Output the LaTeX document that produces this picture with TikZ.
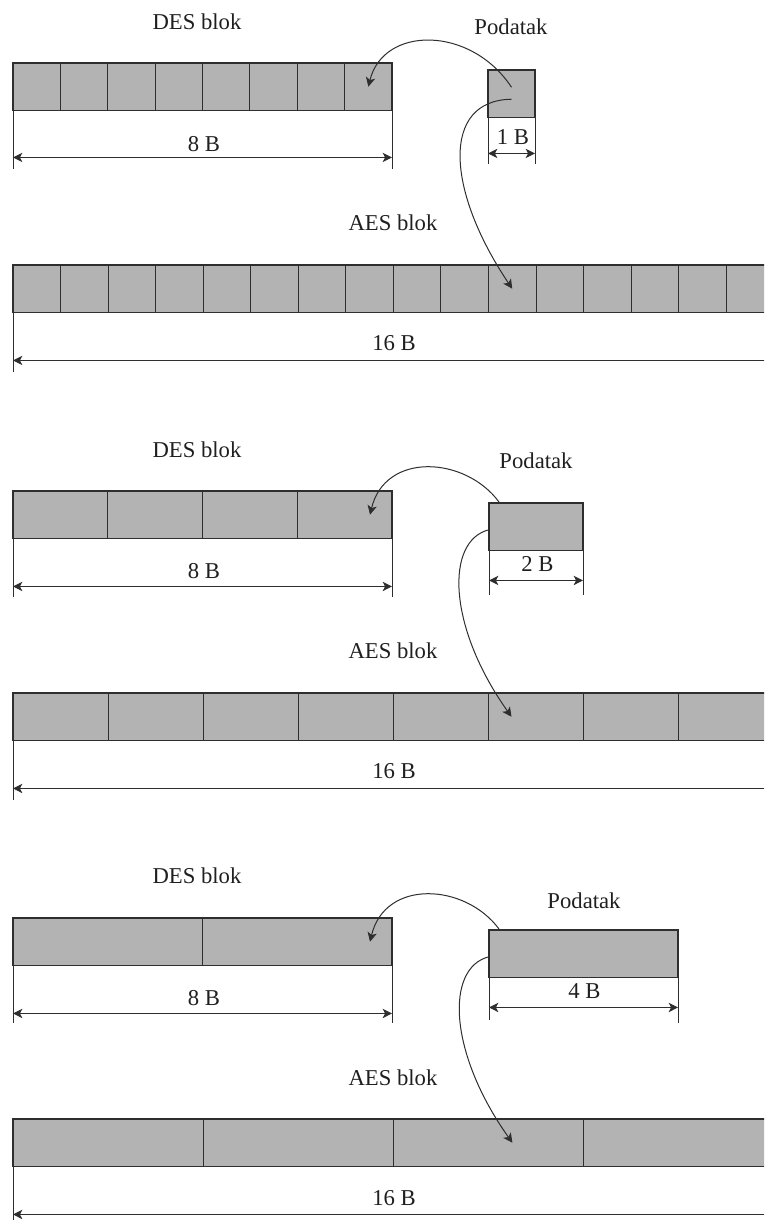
\documentclass[tikz,border=0pt]{standalone}
\usepackage{fontspec}
\setmainfont{Liberation Serif}
\usetikzlibrary{arrows.meta,calc}
\definecolor{cellgray}{HTML}{B3B3B3}
\definecolor{linec}{HTML}{2E2E2E}
\definecolor{textc}{HTML}{1F1F1F}
\begin{document}
\begin{tikzpicture}[x=0.75pt,y=-0.75pt,
  cell/.style={draw=linec,fill=cellgray,line width=0.8pt,inner sep=0pt,outer sep=0pt,anchor=north west,minimum height=35.6pt,minimum width={#1*0.75pt}},
  lbl/.style={font=\fontsize{17}{20}\selectfont,text=textc,anchor=base,inner sep=0pt},
  ext/.style={draw=linec,line width=0.75pt},
  dim/.style={draw=linec,line width=0.75pt,{Stealth[length=7pt,width=7pt,inset=1.8pt]}-{Stealth[length=7pt,width=7pt,inset=1.8pt]}},
  link/.style={draw=linec,line width=0.75pt,-{Stealth[length=7pt,width=7pt,inset=1.8pt]}}]
\useasboundingbox (0,0) rectangle (764,1220);
\clip (0,0) rectangle (764,1220);
% ---------- panel 1 ----------
\foreach \i in {1,...,8} \node[cell=47.375] (d1-\i) at ({13+(\i-1)*47.375},63) {};
\node[cell=47] (p1) at (488,70) {};
\foreach \i in {1,...,16} \node[cell=47.55] (a1-\i) at ({13+(\i-1)*47.55},265) {};
\node[lbl] (tdes1) at (197,30) {DES blok};
\node[lbl] (tpod1) at (511,35) {Podatak};
\node[lbl] (t8b1) at (204,151.5) {8 B};
\node[lbl] (t1b1) at (513,145) {1 B};
\node[lbl] (taes1) at (393,230) {AES blok};
\node[lbl] (t16b1) at (394,350) {16 B};
\draw[ext] (d1-1.south west) -- ++(0,59);
\draw[ext] (d1-8.south east) -- ++(0,59);
\draw[dim] ($(d1-1.south west)+(0,47)$) -- ($(d1-8.south east)+(0,47)$);
\draw[ext] (p1.south west) -- ++(0,47);
\draw[ext] (p1.south east) -- ++(0,47);
\draw[dim] ($(p1.south west)+(0,36)$) -- ($(p1.south east)+(0,36)$);
\draw[ext] (a1-1.south west) -- ++(0,60);
\draw[ext] (a1-16.south east) -- ++(0,60);
\draw[dim] ($(a1-1.south west)+(0,48)$) -- ($(a1-16.south east)+(0,48)$);
\draw[link] ($(p1.center)+(0,-6.5)$) .. controls +(-41,-62) and +(15,-61) .. (d1-8.center);
\draw[link] ($(p1.center)+(0,5.5)$) .. controls +(-71,1) and +(-66,-98) .. (a1-11.center);
% ---------- panel 2 ----------
\foreach \i in {1,...,4} \node[cell=94.75] (d2-\i) at ({13+(\i-1)*94.75},491) {};
\node[cell=94] (p2) at (489,503) {};
\foreach \i in {1,...,8} \node[cell=95.1] (a2-\i) at ({13+(\i-1)*95.1},693) {};
\node[lbl] (tdes2) at (197,457) {DES blok};
\node[lbl] (tpod2) at (536,468) {Podatak};
\node[lbl] (t8b2) at (204,578.5) {8 B};
\node[lbl] (t2b2) at (537.5,571.7) {2 B};
\node[lbl] (taes2) at (393,658) {AES blok};
\node[lbl] (t16b2) at (394,778) {16 B};
\draw[ext] (d2-1.south west) -- ++(0,59);
\draw[ext] (d2-4.south east) -- ++(0,59);
\draw[dim] ($(d2-1.south west)+(0,48)$) -- ($(d2-4.south east)+(0,48)$);
\draw[ext] (p2.south west) -- ++(0,45);
\draw[ext] (p2.south east) -- ++(0,45);
\draw[dim] ($(p2.south west)+(0,30)$) -- ($(p2.south east)+(0,30)$);
\draw[ext] (a2-1.south west) -- ++(0,60);
\draw[ext] (a2-8.south east) -- ++(0,60);
\draw[dim] ($(a2-1.south west)+(0,48)$) -- ($(a2-8.south east)+(0,48)$);
\draw[link] ($(p2.north west)+(10,-1)$) .. controls +(-34,-46) and +(15,-63) .. ($(d2-4.east)+(-22,0)$);
\draw[link] ($(p2.west)+(0,3)$) .. controls +(-44,11) and +(-64,-90) .. ($(a2-6.west)+(23,0)$);
% ---------- panel 3 ----------
\foreach \i in {1,...,2} \node[cell=189.5] (d3-\i) at ({13+(\i-1)*189.5},918) {};
\node[cell=189] (p3) at (489,930) {};
\foreach \i in {1,...,4} \node[cell=190.2] (a3-\i) at ({13+(\i-1)*190.2},1119) {};
\node[lbl] (tdes3) at (197,883.3) {DES blok};
\node[lbl] (tpod3) at (584,908) {Podatak};
\node[lbl] (t8b3) at (204,1005) {8 B};
\node[lbl] (t4b3) at (584.5,998.3) {4 B};
\node[lbl] (taes3) at (393,1085.7) {AES blok};
\node[lbl] (t16b3) at (394,1205) {16 B};
\draw[ext] (d3-1.south west) -- ++(0,58);
\draw[ext] (d3-2.south east) -- ++(0,58);
\draw[dim] ($(d3-1.south west)+(0,48)$) -- ($(d3-2.south east)+(0,48)$);
\draw[ext] (p3.south west) -- ++(0,43);
\draw[ext] (p3.south east) -- ++(0,46);
\draw[dim] ($(p3.south west)+(0,30)$) -- ($(p3.south east)+(0,30)$);
\draw[ext] (a3-1.south west) -- ++(0,60);
\draw[ext] (a3-4.south east) -- ++(0,60);
\draw[dim] ($(a3-1.south west)+(0,48)$) -- ($(a3-4.south east)+(0,48)$);
\draw[link] ($(p3.north west)+(10,-1)$) .. controls +(-34,-46) and +(15,-63) .. ($(d3-2.east)+(-22,0)$);
\draw[link] ($(p3.west)+(0,3)$) .. controls +(-44,11) and +(-64,-90) .. ($(a3-3.west)+(119,0)$);
\end{tikzpicture}
\end{document}
